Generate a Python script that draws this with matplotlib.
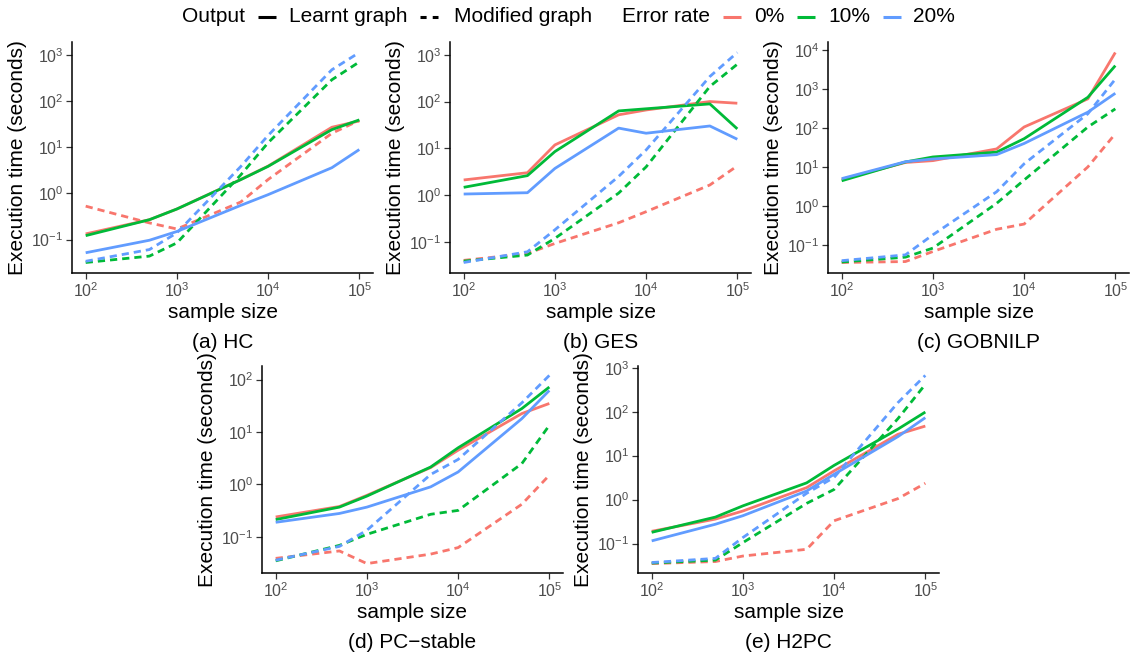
import matplotlib
matplotlib.use('Agg')
import matplotlib.pyplot as plt
from matplotlib.lines import Line2D
import numpy as np
from matplotlib.ticker import LogLocator, FuncFormatter, NullLocator

plt.rcParams['font.family'] = ['Liberation Sans', 'DejaVu Sans']
plt.rcParams['mathtext.fontset'] = 'custom'
plt.rcParams['mathtext.rm'] = 'Liberation Sans'
plt.rcParams['mathtext.it'] = 'Liberation Sans:italic'
plt.rcParams['mathtext.bf'] = 'Liberation Sans:bold'
plt.rcParams['mathtext.default'] = 'regular'

sample_sizes = [100, 500, 1000, 5000, 10000, 50000, 100000]
error_rates = ['0%', '10%', '20%']
output_types = ['Learnt graph', 'Modified graph']
panel_titles = ['(a) HC', '(b) GES', '(c) GOBNILP', '(d) PC\u2212stable', '(e) H2PC']

# (a) HC
hc_learnt_0 = [0.133, 0.27, 0.46, 2.0, 3.9, 27, 37]
hc_learnt_10 = [0.122, 0.27, 0.46, 1.98, 3.85, 24, 39]
hc_learnt_20 = [0.052, 0.097, 0.15, 0.55, 0.94, 3.6, 8.9]
hc_modified_0 = [0.53, 0.23, 0.17, 0.65, 2.0, 20, 38]
hc_modified_10 = [0.032, 0.044, 0.085, 2.5, 12.5, 288, 700]
hc_modified_20 = [0.034, 0.061, 0.14, 3.8, 18, 474, 1120]

# (b) GES
ges_learnt_0 = [2.1, 3.0, 11.8, 52, 66, 100, 92]
ges_learnt_10 = [1.46, 2.6, 8.5, 63, 70, 89, 26]
ges_learnt_20 = [1.05, 1.12, 3.7, 27, 21, 30, 15.6]
ges_modified_0 = [0.040, 0.056, 0.092, 0.255, 0.44, 1.64, 4.2]
ges_modified_10 = [0.0385, 0.052, 0.118, 1.1, 4.0, 210, 630]
ges_modified_20 = [0.036, 0.061, 0.18, 2.5, 9.2, 343, 1120]

# (c) GOBNILP
gob_learnt_0 = [4.8, 13, 14.5, 29, 106, 560, 8700]
gob_learnt_10 = [4.4, 13.4, 18, 24, 53, 615, 4000]
gob_learnt_20 = [5.0, 13.6, 16, 20.7, 40, 255, 780]
gob_modified_0 = [0.035, 0.037, 0.067, 0.25, 0.34, 10, 71]
gob_modified_10 = [0.036, 0.048, 0.082, 1.16, 4.6, 106, 310]
gob_modified_20 = [0.039, 0.055, 0.18, 2.3, 12, 232, 1800]

# (d) PC-stable
pc_learnt_0 = [0.24, 0.38, 0.62, 2.1, 4.5, 22.5, 35]
pc_learnt_10 = [0.214, 0.37, 0.60, 2.15, 5.0, 28, 72]
pc_learnt_20 = [0.19, 0.28, 0.37, 0.9, 1.73, 18, 62]
pc_modified_0 = [0.039, 0.054, 0.031, 0.047, 0.0625, 0.42, 1.5]
pc_modified_10 = [0.035, 0.069, 0.112, 0.27, 0.32, 2.5, 13.4]
pc_modified_20 = [0.036, 0.066, 0.134, 1.55, 3.0, 36, 120]

# (e) H2PC
h2_learnt_0 = [0.19, 0.36, 0.55, 1.87, 4.5, 30.5, 47]
h2_learnt_10 = [0.18, 0.40, 0.72, 2.4, 6.0, 40, 98]
h2_learnt_20 = [0.115, 0.275, 0.43, 1.57, 3.76, 27, 73]
h2_modified_0 = [0.035, 0.039, 0.052, 0.074, 0.33, 1.05, 2.35]
h2_modified_10 = [0.036, 0.042, 0.105, 0.82, 1.7, 69, 417]
h2_modified_20 = [0.037, 0.046, 0.137, 1.39, 3.2, 160, 668]

panels = [
    ([hc_learnt_0, hc_learnt_10, hc_learnt_20], [hc_modified_0, hc_modified_10, hc_modified_20]),
    ([ges_learnt_0, ges_learnt_10, ges_learnt_20], [ges_modified_0, ges_modified_10, ges_modified_20]),
    ([gob_learnt_0, gob_learnt_10, gob_learnt_20], [gob_modified_0, gob_modified_10, gob_modified_20]),
    ([pc_learnt_0, pc_learnt_10, pc_learnt_20], [pc_modified_0, pc_modified_10, pc_modified_20]),
    ([h2_learnt_0, h2_learnt_10, h2_learnt_20], [h2_modified_0, h2_modified_10, h2_modified_20]),
]

colors = ['#F8766D', '#00BA38', '#619CFF']
W, H = 1136, 655
fig = plt.figure(figsize=(W / 100, H / 100), dpi=100)

# pixel boxes: left, top, width, height
boxes = [(72, 42, 301, 231), (450, 42, 301, 231), (828, 42, 301, 231),
         (262, 366, 301, 207), (638, 366, 301, 207)]

LW = 2.0
DASH = (0, (2.6, 1.8))
FS = 15


def fx(px):
    return px / W


def fy(py):
    return 1 - py / H


def pow_fmt(v, pos):
    e = int(round(np.log10(v)))
    return r'$\mathrm{10^{%d}}$' % e


for (learnt, modified), box, title in zip(panels, boxes, panel_titles):
    l, t, w, h = box
    ax = fig.add_axes([fx(l), fy(t + h), w / W, h / H])
    for ci in range(3):
        ax.plot(sample_sizes, learnt[ci], color=colors[ci], lw=LW, solid_capstyle='butt')
        ax.plot(sample_sizes, modified[ci], color=colors[ci], lw=LW, linestyle=DASH, dash_capstyle='butt')
    ax.set_xscale('log')
    ax.set_yscale('log')
    allv = np.log10(np.concatenate([np.array(v) for v in learnt + modified]))
    lo, hi = allv.min(), allv.max()
    pad = 0.05 * (hi - lo)
    ax.set_ylim(10 ** (lo - pad), 10 ** (hi + pad))
    xlo, xhi = np.log10(sample_sizes[0]), np.log10(sample_sizes[-1])
    xpad = 0.05 * (xhi - xlo)
    ax.set_xlim(10 ** (xlo - xpad), 10 ** (xhi + xpad))
    ax.xaxis.set_major_locator(LogLocator(base=10, numticks=20))
    ax.yaxis.set_major_locator(LogLocator(base=10, numticks=20))
    ax.xaxis.set_minor_locator(NullLocator())
    ax.yaxis.set_minor_locator(NullLocator())
    ax.xaxis.set_major_formatter(FuncFormatter(pow_fmt))
    ax.yaxis.set_major_formatter(FuncFormatter(pow_fmt))
    for s in ['top', 'right']:
        ax.spines[s].set_visible(False)
    for s in ['left', 'bottom']:
        ax.spines[s].set_linewidth(1.1)
        ax.spines[s].set_color('black')
    ax.tick_params(direction='out', length=4, width=0.9, color='#333333',
                   labelsize=11.5, labelcolor='#4D4D4D', pad=2)
    ax.set_facecolor('white')
    ax.set_ylabel('Execution time (seconds)', fontsize=FS, color='black')
    ax.yaxis.set_label_coords(-0.148, 0.5)
    cx = l + w / 2
    fig.text(fx(cx), fy(t + h + 40), 'sample size', fontsize=FS, ha='center', va='center')
    fig.text(fx(cx), fy(t + h + 69), title, fontsize=FS, ha='center', va='center')

# Legend drawn at top
ly = 17


def ftext(x, s):
    fig.text(fx(x), fy(ly), s, fontsize=FS, ha='left', va='center')


def fkey(x0, x1, color, ls):
    fig.add_artist(Line2D([fx(x0), fx(x1)], [fy(ly), fy(ly)], transform=fig.transFigure,
                          color=color, lw=2.2, linestyle=ls, solid_capstyle='butt',
                          dash_capstyle='butt'))


ftext(182, 'Output')
fkey(258, 276, 'black', '-')
ftext(289, 'Learnt graph')
fkey(420, 438, 'black', (0, (2.0, 2.0)))
ftext(454, 'Modified graph')
ftext(622, 'Error rate')
fkey(723, 741, colors[0], '-')
ftext(754, '0%')
fkey(797, 815, colors[1], '-')
ftext(828, '10%')
fkey(883, 901, colors[2], '-')
ftext(913, '20%')

fig.savefig('out.png', dpi=100, facecolor='white')
